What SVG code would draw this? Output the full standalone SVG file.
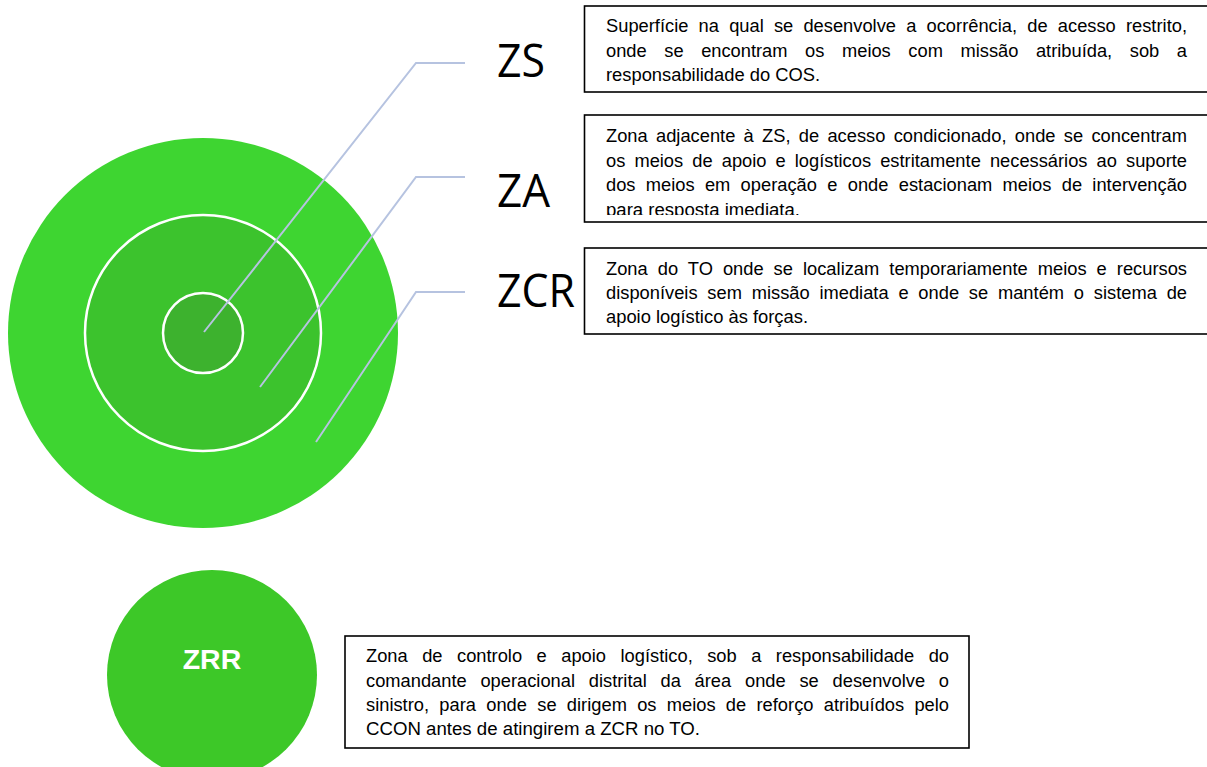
<svg xmlns="http://www.w3.org/2000/svg" width="1207" height="767" viewBox="0 0 1207 767">
  <style>
    .box { fill: #ffffff; stroke: #000000; stroke-width: 1.6; }
    .desc { font-family: "Liberation Sans", Arial, sans-serif; font-size: 18.3px; fill: #000000; }
    .big { font-family: "Open Sans", "Liberation Sans", sans-serif; font-size: 46px; fill: #000000; }
    .conn { fill: none; stroke: #b6c3e0; stroke-width: 2; }
    .ring { stroke: #ffffff; stroke-width: 2.5; }
  </style>
  <defs>
    <clipPath id="clipZA">
      <rect x="585" y="116" width="630" height="99"/>
    </clipPath>
  </defs>
  <rect width="1207" height="767" fill="#ffffff"/>

  <g id="zcr-circle">
    <circle cx="203" cy="333" r="195" fill="#3ed531"/>
  </g>
  <g id="za-circle">
    <circle cx="203" cy="333" r="118" fill="#3cc32d" class="ring"/>
  </g>
  <g id="zs-circle">
    <circle cx="203" cy="333" r="40" fill="#3db22e" class="ring"/>
  </g>

  <g id="connectors">
    <polyline class="conn" points="204,332 416,63 465,63"/>
    <polyline class="conn" points="260,387 416,177 465,177"/>
    <polyline class="conn" points="316,442 416,292 465,292"/>
  </g>

  <g id="label-zs">
    <text class="big" x="497" y="77" textLength="48" lengthAdjust="spacingAndGlyphs">ZS</text>
  </g>
  <g id="label-za">
    <text class="big" x="497" y="207" textLength="53" lengthAdjust="spacingAndGlyphs">ZA</text>
  </g>
  <g id="label-zcr">
    <text class="big" x="497" y="307" textLength="78" lengthAdjust="spacingAndGlyphs">ZCR</text>
  </g>

  <g id="box-zs">
    <rect class="box" x="584.5" y="6" width="630" height="86"/>
    <text class="desc" x="606" y="32" word-spacing="5.1" textLength="581" lengthAdjust="spacing">Superfície na qual se desenvolve a ocorrência, de acesso restrito,</text>
    <text class="desc" x="606" y="56.5" word-spacing="12.5" textLength="581" lengthAdjust="spacing">onde se encontram os meios com missão atribuída, sob a</text>
    <text class="desc" x="606" y="81" textLength="214" lengthAdjust="spacingAndGlyphs">responsabilidade do COS.</text>
  </g>

  <g id="box-za">
    <rect class="box" x="584.5" y="115" width="630" height="107"/>
    <g clip-path="url(#clipZA)">
      <text class="desc" x="606" y="142" word-spacing="3.2" textLength="581" lengthAdjust="spacing">Zona adjacente à ZS, de acesso condicionado, onde se concentram</text>
      <text class="desc" x="606" y="166.5" word-spacing="4" textLength="581" lengthAdjust="spacing">os meios de apoio e logísticos estritamente necessários ao suporte</text>
      <text class="desc" x="606" y="191" word-spacing="5.2" textLength="581" lengthAdjust="spacing">dos meios em operação e onde estacionam meios de intervenção</text>
      <text class="desc" x="606" y="215.5" textLength="194" lengthAdjust="spacingAndGlyphs">para resposta imediata.</text>
    </g>
  </g>

  <g id="box-zcr">
    <rect class="box" x="584.5" y="248" width="630" height="86"/>
    <text class="desc" x="606" y="275" word-spacing="4.9" textLength="581" lengthAdjust="spacing">Zona do TO onde se localizam temporariamente meios e recursos</text>
    <text class="desc" x="606" y="299" word-spacing="4.7" textLength="581" lengthAdjust="spacing">disponíveis sem missão imediata e onde se mantém o sistema de</text>
    <text class="desc" x="606" y="323" textLength="202" lengthAdjust="spacingAndGlyphs">apoio logístico às forças.</text>
  </g>

  <g id="zrr">
    <circle cx="212" cy="675" r="105" fill="#3dc828"/>
    <text x="212" y="669" text-anchor="middle" font-family="'Liberation Sans', Arial, sans-serif" font-weight="bold" font-size="28.5" fill="#ffffff">ZRR</text>
  </g>

  <g id="box-zrr">
    <rect class="box" x="345" y="636" width="624" height="112"/>
    <text class="desc" x="366" y="662" word-spacing="9.4" textLength="583" lengthAdjust="spacing">Zona de controlo e apoio logístico, sob a responsabilidade do</text>
    <text class="desc" x="366" y="686.5" word-spacing="8.7" textLength="583" lengthAdjust="spacing">comandante operacional distrital da área onde se desenvolve o</text>
    <text class="desc" x="366" y="710.5" word-spacing="5.2" textLength="583" lengthAdjust="spacing">sinistro, para onde se dirigem os meios de reforço atribuídos pelo</text>
    <text class="desc" x="366" y="735" textLength="334" lengthAdjust="spacingAndGlyphs">CCON antes de atingirem a ZCR no TO.</text>
  </g>
</svg>
